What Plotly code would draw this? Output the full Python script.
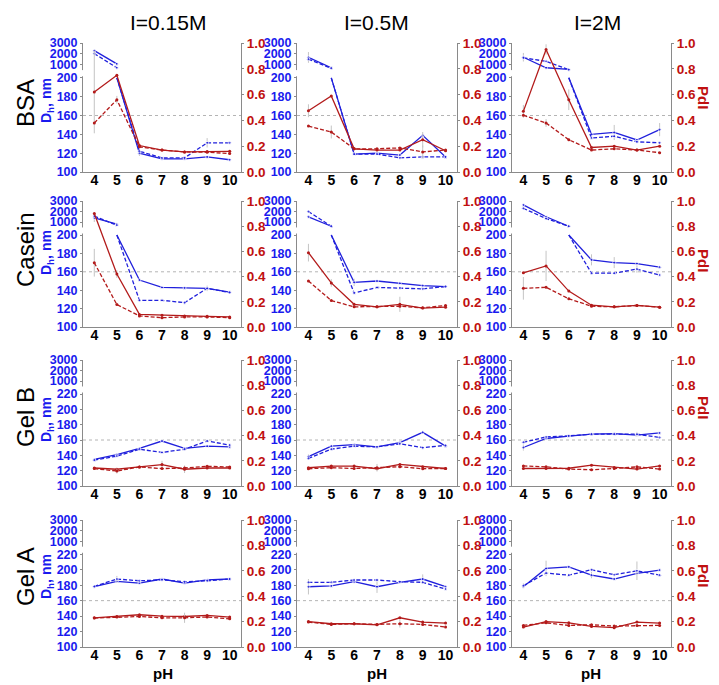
import plotly.graph_objects as go

# ---------------- data ----------------
PH = [4, 5, 6, 7, 8, 9, 10]
IONIC_STRENGTHS = ["I=0.15M", "I=0.5M", "I=2M"]
SAMPLES = ["BSA", "Casein", "Gel B", "Gel A"]

DH_TICKS_PROTEIN = [100, 120, 140, 160, 180, 200, 1000, 2000, 3000]
DH_TICKS_GEL = [100, 120, 140, 160, 180, 200, 220, 1000, 2000, 3000]
PDI_TICKS = [0.0, 0.2, 0.4, 0.6, 0.8, 1.0]

# each list: [I=0.15M, I=0.5M, I=2M], values at pH 4..10
BSA_DH_SOLID = [[2290, 1060, 120, 114, 114, 116, 113],
                [1660, 700, 119, 120, 118, 139, 116],
                [1680, 700, 550, 140, 142, 134, 145]]
BSA_DH_DASH = [[2015, 700, 122, 115, 115, 131, 131],
               [1500, 650, 119, 119, 115, 116, 116],
               [1620, 1300, 520, 136, 138, 132, 131]]
BSA_PDI_SOLID = [[0.62, 0.75, 0.205, 0.17, 0.156, 0.158, 0.16],
                 [0.475, 0.59, 0.18, 0.17, 0.17, 0.25, 0.165],
                 [0.47, 0.95, 0.56, 0.19, 0.2, 0.17, 0.2]]
BSA_PDI_DASH = [[0.38, 0.56, 0.195, 0.17, 0.156, 0.153, 0.143],
                [0.356, 0.31, 0.18, 0.18, 0.187, 0.156, 0.17],
                [0.44, 0.38, 0.25, 0.17, 0.18, 0.17, 0.15]]

CASEIN_DH_SOLID = [[1400, 800, 151, 143, 142.5, 142, 138],
                   [1500, 600, 148.5, 150, 147.5, 145, 144],
                   [2630, 1500, 600, 173, 170, 169, 165]]
CASEIN_DH_DASH = [[1570, 700, 129, 129, 126.5, 142, 137.5],
                  [2000, 600, 137, 143, 142.5, 141.5, 144],
                  [2300, 1330, 600, 158.5, 158.5, 163, 156.5]]
CASEIN_PDI_SOLID = [[0.90, 0.42, 0.10, 0.093, 0.088, 0.085, 0.08],
                    [0.59, 0.35, 0.18, 0.16, 0.18, 0.15, 0.157],
                    [0.43, 0.485, 0.285, 0.173, 0.16, 0.171, 0.157]]
CASEIN_PDI_DASH = [[0.51, 0.178, 0.088, 0.074, 0.08, 0.08, 0.074],
                   [0.365, 0.21, 0.16, 0.16, 0.165, 0.152, 0.171],
                   [0.307, 0.315, 0.224, 0.165, 0.16, 0.171, 0.157]]

GELB_DH_SOLID = [[134.6, 141, 149, 158.7, 149, 152, 151],
                 [138.3, 152, 154, 151, 156.6, 170, 152],
                 [150.2, 162, 165, 167.6, 168.4, 166.3, 169.2]]
GELB_DH_DASH = [[133.7, 139, 148, 143.8, 148, 158.7, 153.4],
                [136, 148, 152, 151, 155, 150, 153],
                [157, 164, 165.4, 167.6, 167.6, 167.6, 163.3]]
GELB_PDI_SOLID = [[0.143, 0.133, 0.151, 0.17, 0.133, 0.143, 0.143],
                  [0.145, 0.158, 0.158, 0.137, 0.171, 0.153, 0.139],
                  [0.139, 0.139, 0.141, 0.165, 0.147, 0.134, 0.159]]
GELB_PDI_DASH = [[0.138, 0.119, 0.151, 0.138, 0.143, 0.156, 0.151],
                 [0.137, 0.145, 0.139, 0.145, 0.153, 0.137, 0.139],
                 [0.159, 0.152, 0.134, 0.129, 0.139, 0.152, 0.134]]

GELA_DH_SOLID = [[178, 185, 182.7, 188, 182.7, 187, 188],
                 [178, 179, 184.5, 178, 183.7, 188, 178],
                 [178, 201.7, 203.8, 193, 188, 195.3, 199.6]]
GELA_DH_DASH = [[178.4, 188, 185.7, 187, 184.4, 185.7, 188],
                [183.7, 183.7, 186.7, 186.7, 184.5, 183.7, 175],
                [179.4, 195.7, 193, 200, 193.5, 198.7, 193]]
GELA_PDI_SOLID = [[0.23, 0.24, 0.254, 0.243, 0.24, 0.249, 0.236],
                  [0.2, 0.183, 0.183, 0.175, 0.23, 0.196, 0.188],
                  [0.157, 0.2, 0.19, 0.162, 0.152, 0.196, 0.188]]
GELA_PDI_DASH = [[0.228, 0.236, 0.24, 0.23, 0.23, 0.236, 0.222],
                 [0.196, 0.178, 0.183, 0.178, 0.183, 0.178, 0.157],
                 [0.17, 0.19, 0.17, 0.175, 0.165, 0.17, 0.17]]

# (sample, ionic-strength index, series, pH, error)
ERROR_BARS = [
    ("BSA", 0, "pdi_solid", 4, 0.32), ("BSA", 0, "pdi_dash", 5, 0.03),
    ("BSA", 0, "dh_dash", 9, 5), ("BSA", 0, "dh_solid", 6, 3),
    ("BSA", 1, "dh_solid", 4, 500), ("BSA", 1, "pdi_solid", 4, 0.05),
    ("BSA", 1, "pdi_dash", 5, 0.05), ("BSA", 1, "pdi_solid", 9, 0.06),
    ("BSA", 1, "pdi_dash", 9, 0.05),
    ("BSA", 2, "dh_solid", 4, 400), ("BSA", 2, "pdi_solid", 4, 0.05),
    ("BSA", 2, "pdi_solid", 5, 0.04), ("BSA", 2, "pdi_solid", 6, 0.08),
    ("BSA", 2, "pdi_dash", 5, 0.03), ("BSA", 2, "dh_solid", 8, 8),
    ("BSA", 2, "dh_solid", 10, 7),
    ("Casein", 0, "pdi_dash", 4, 0.11), ("Casein", 0, "dh_solid", 4, 400),
    ("Casein", 0, "pdi_solid", 5, 0.03), ("Casein", 0, "dh_solid", 9, 3),
    ("Casein", 1, "pdi_solid", 4, 0.07), ("Casein", 1, "pdi_solid", 8, 0.06),
    ("Casein", 1, "dh_solid", 6, 4), ("Casein", 1, "pdi_solid", 5, 0.03),
    ("Casein", 2, "pdi_dash", 4, 0.09), ("Casein", 2, "pdi_solid", 5, 0.12),
    ("Casein", 2, "dh_solid", 7, 6), ("Casein", 2, "dh_solid", 8, 6),
    ("Casein", 2, "dh_dash", 9, 4),
    ("Gel B", 0, "pdi_dash", 5, 0.02), ("Gel B", 0, "pdi_solid", 7, 0.03),
    ("Gel B", 0, "pdi_solid", 8, 0.03), ("Gel B", 1, "dh_solid", 4, 3),
    ("Gel B", 1, "pdi_dash", 7, 0.03), ("Gel B", 2, "dh_solid", 4, 4),
    ("Gel B", 2, "dh_dash", 9, 3),
    ("Gel A", 0, "dh_dash", 5, 4), ("Gel A", 0, "pdi_dash", 8, 0.04),
    ("Gel A", 1, "dh_solid", 4, 10), ("Gel A", 1, "dh_solid", 7, 8),
    ("Gel A", 1, "dh_solid", 9, 6), ("Gel A", 1, "pdi_dash", 8, 0.03),
    ("Gel A", 2, "dh_solid", 5, 10), ("Gel A", 2, "dh_dash", 9, 12),
    ("Gel A", 2, "dh_solid", 7, 4), ("Gel A", 2, "dh_dash", 4, 3),
]

ROW_DATA = [
    (BSA_DH_SOLID, BSA_DH_DASH, BSA_PDI_SOLID, BSA_PDI_DASH),
    (CASEIN_DH_SOLID, CASEIN_DH_DASH, CASEIN_PDI_SOLID, CASEIN_PDI_DASH),
    (GELB_DH_SOLID, GELB_DH_DASH, GELB_PDI_SOLID, GELB_PDI_DASH),
    (GELA_DH_SOLID, GELA_DH_DASH, GELA_PDI_SOLID, GELA_PDI_DASH),
]
ROW_TICKS = [DH_TICKS_PROTEIN, DH_TICKS_PROTEIN, DH_TICKS_GEL, DH_TICKS_GEL]

# ---------------- geometry / style ----------------
W, H = 719, 685
COL_PX = [(83, 241), (297, 457), (512, 671)]
ROW_PX = [(43, 172), (201, 327), (360, 486), (520, 647)]
L_FRAC = 0.73      # fraction of panel height where the lower Dh segment ends
U_FRAC = 0.833     # fraction where 1000 sits on the upper segment
BREAK_TOP = 0.79   # top of the axis break

BLUE = "#2020dc"
RED = "#b31b1b"
TICK_BLUE = "#1a1aee"
TICK_RED = "#c01010"
AX_GRAY = "#8a8a8a"
ERR_GRAY = "#c4c4c4"
FONT = "Liberation Sans, Arial, sans-serif"

ERR = {(s, c, k, p): e for s, c, k, p, e in ERROR_BARS}


def dh_map(v, low_top):
    if v <= low_top:
        return (v - 100) / (low_top - 100) * L_FRAC
    return U_FRAC + (v - 1000) / 2000 * (1 - U_FRAC)


def dh_path(vals, low_top, sample, c, key):
    xs, ys, sz, ep, em = [], [], [], [], []
    prev = None
    for x, v in zip(PH, vals):
        up = v > low_top
        if prev is not None and prev[2] != up:
            if prev[2]:  # upper -> lower: restart from top of lower segment
                xs += [None, prev[0]]
                ys += [None, dh_map(low_top, low_top)]
            else:        # lower -> upper
                xs += [x, None]
                ys += [dh_map(low_top, low_top), None]
            sz += [0, 0]; ep += [0, 0]; em += [0, 0]
        e = ERR.get((sample, c, key, x), 0)
        m = dh_map(v, low_top)
        if up:
            k = (1 - U_FRAC) / 2000
            ep.append(e * k); em.append(e * k)
        else:
            k = L_FRAC / (low_top - 100)
            ep.append(min(e * k, 1 - m)); em.append(e * k)
        xs.append(x); ys.append(m); sz.append(3)
        prev = (x, v, up)
    return xs, ys, sz, ep, em


def ref(prefix, n):
    return prefix if n == 1 else f"{prefix}{n}"


def key(prefix, n):
    return f"{prefix}axis" if n == 1 else f"{prefix}axis{n}"


fig = go.Figure()
layout = dict(template="none", width=W, height=H,
              margin=dict(l=0, r=0, t=0, b=0, pad=0, autoexpand=False),
              paper_bgcolor="white", plot_bgcolor="white", showlegend=False,
              shapes=[], annotations=[])

for r, sample in enumerate(SAMPLES):
    low_top = ROW_TICKS[r][-4]
    ticks = ROW_TICKS[r]
    dh_s, dh_d, pdi_s, pdi_d = ROW_DATA[r]
    ytop, ybot = ROW_PX[r]
    ydom = [1 - ybot / H, 1 - ytop / H]
    for c in range(3):
        p = r * 3 + c
        xn, yln, yrn = p + 1, 2 * p + 1, 2 * p + 2
        xl, xr = COL_PX[c]
        xdom = [xl / W, xr / W]

        for vals, kname, dash in ((dh_s[c], "dh_solid", "solid"), (dh_d[c], "dh_dash", "4px,2px")):
            xs, ys, sz, ep, em = dh_path(vals, low_top, sample, c, kname)
            fig.add_trace(go.Scatter(
                x=xs, y=ys, mode="lines+markers", xaxis=ref("x", xn), yaxis=ref("y", yln),
                line=dict(color=BLUE, width=1.3, dash=dash),
                marker=dict(size=sz, color=BLUE, symbol="circle"),
                error_y=dict(type="data", array=ep, arrayminus=em, color=ERR_GRAY,
                             thickness=1, width=0),
                connectgaps=False, hoverinfo="skip"))
        for vals, kname, dash in ((pdi_s[c], "pdi_solid", "solid"), (pdi_d[c], "pdi_dash", "4px,2px")):
            errs = [ERR.get((sample, c, kname, x), 0) for x in PH]
            fig.add_trace(go.Scatter(
                x=PH, y=vals, mode="lines+markers", xaxis=ref("x", xn), yaxis=ref("y", yrn),
                line=dict(color=RED, width=1.3, dash=dash),
                marker=dict(size=3, color=RED),
                error_y=dict(type="data", array=errs, color=ERR_GRAY, thickness=1, width=0),
                hoverinfo="skip"))

        layout[key("x", xn)] = dict(
            domain=xdom, anchor=ref("y", yln), range=[3.5, 10.5], automargin=False,
            tickvals=PH, ticktext=[str(v) for v in PH],
            showline=True, linecolor=AX_GRAY, linewidth=1, mirror=False,
            ticks="", ticklabelstandoff=-5, showgrid=False, zeroline=False,
            tickfont=dict(family=FONT, size=14, color="black", weight="bold"))
        layout[key("y", yln)] = dict(
            domain=ydom, anchor=ref("x", xn), range=[0, 1], automargin=False,
            tickvals=[dh_map(t, low_top) for t in ticks],
            ticktext=[str(t) for t in ticks],
            showline=True, linecolor=AX_GRAY, linewidth=1,
            ticks="outside", ticklen=2, tickcolor=AX_GRAY,
            showgrid=False, zeroline=False,
            tickfont=dict(family=FONT, size=12.5, color=TICK_BLUE, weight="bold"))
        layout[key("y", yrn)] = dict(
            overlaying=ref("y", yln), side="right", anchor=ref("x", xn), range=[0, 1],
            automargin=False, tickvals=PDI_TICKS, tickformat=".1f",
            showline=True, linecolor=AX_GRAY, linewidth=1,
            ticks="outside", ticklen=2, tickcolor=AX_GRAY,
            showgrid=False, zeroline=False,
            tickfont=dict(family=FONT, size=13.5, color=TICK_RED, weight="bold"))

        # reference line at Dh = 160 nm
        y160 = dh_map(160, low_top)
        layout["shapes"].append(dict(
            type="line", xref=f"{ref('x', xn)} domain", yref=ref("y", yln),
            x0=0, x1=1, y0=y160, y1=y160, layer="below",
            line=dict(color="#b4b4b4", width=1, dash="dot")))
        # axis break
        layout["shapes"].append(dict(
            type="rect", xref=f"{ref('x', xn)} domain", yref=ref("y", yln),
            x0=-0.02, x1=0.02, y0=L_FRAC + 0.012, y1=BREAK_TOP,
            fillcolor="white", line=dict(width=0), layer="above"))

# annotations
ann = layout["annotations"]


def add_text(txt, px, py, size, color, angle=0):
    ann.append(dict(text=txt, x=px / W, y=1 - py / H, xref="paper", yref="paper",
                    xanchor="center", yanchor="middle", showarrow=False,
                    textangle=angle, font=dict(family=FONT, size=size, color=color)))


for txt, cx in zip(IONIC_STRENGTHS, [168, 377, 597]):
    add_text(txt, cx, 22, 21, "black")
for cx in [163, 377, 591]:
    add_text("<b>pH</b>", cx, 673, 15, "black")
for txt, cy in zip(SAMPLES, [103, 250, 417, 577]):
    add_text(txt, 25, cy, 24, "black", -90)
for cy in [101, 253, 420, 577]:
    add_text("<b>D<sub>h</sub>, nm</b>", 47, cy, 14, TICK_BLUE, -90)
for cy in [97, 260, 407, 575]:
    add_text("<b>PdI</b>", 704, cy, 15, TICK_RED, 90)

fig.update_layout(**layout)
fig.write_html("out.html", config={"displayModeBar": False},
               post_script="document.body.style.margin='0';")
